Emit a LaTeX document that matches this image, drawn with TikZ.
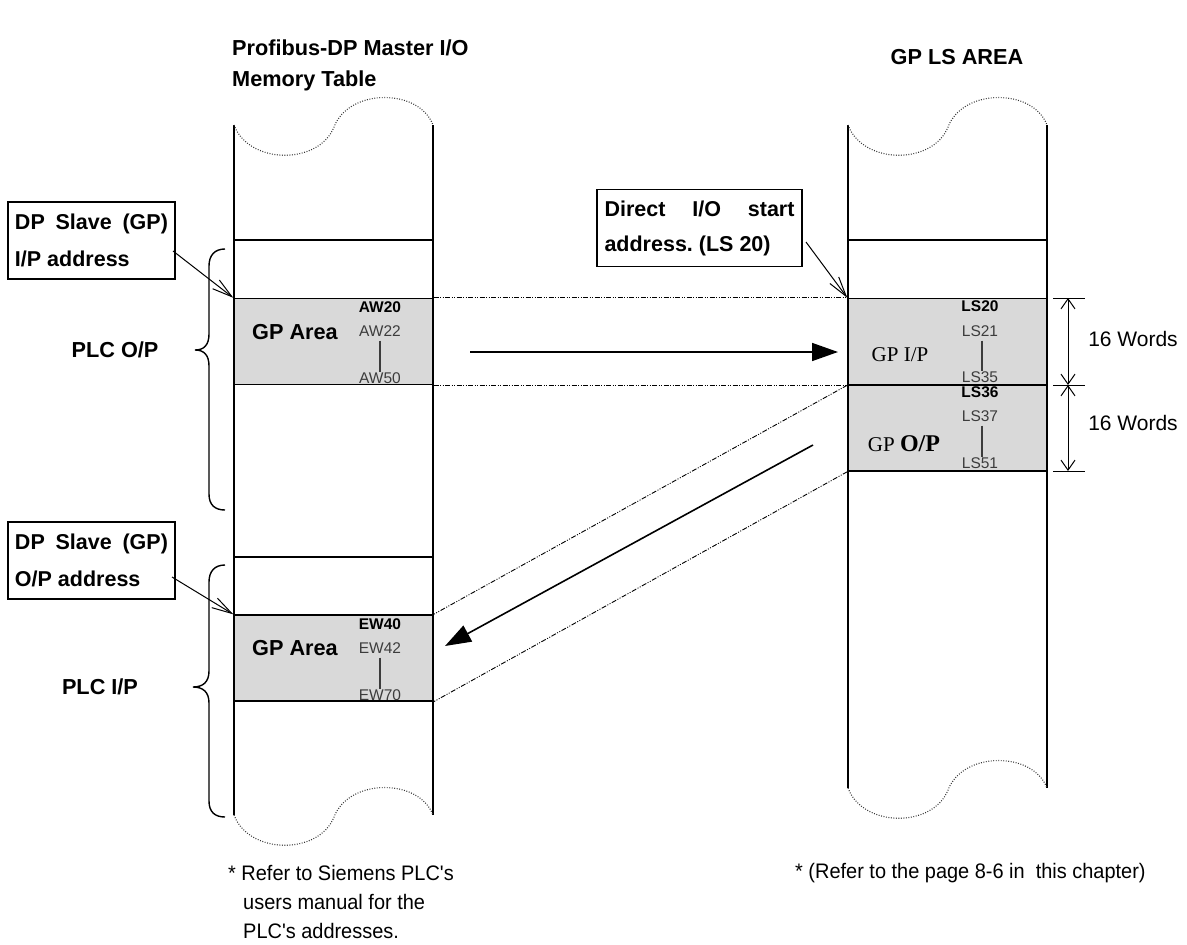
\documentclass[tikz,border=0pt]{standalone}
\usepackage{fontspec}
\setmainfont{Liberation Sans}
\newfontfamily\tnr{Liberation Serif}
\newfontfamily\narrowsf[FakeStretch=0.95]{Liberation Sans}
\usetikzlibrary{arrows.meta}
\definecolor{gpgray}{RGB}{217,217,217}
\definecolor{addr}{RGB}{60,60,60}
\begin{document}
\frenchspacing
\begin{tikzpicture}[x=1pt,y=-1pt,
  col/.style={line width=1.4pt},
  hline/.style={line width=1.4pt},
  wave/.style={line width=1.1pt, dash pattern=on 0.9pt off 1.6pt, black!80},
  gparea/.style={fill=gpgray, draw=black, line width=1.4pt, minimum width=199pt, minimum height=86pt, inner sep=0pt},
  lbox/.style={draw, line width=1.4pt, minimum width=167pt, minimum height=77pt, inner sep=0pt, align=left, font=\fontsize{21.5}{37}\selectfont\bfseries},
  big/.style={font=\fontsize{21.7}{33}\selectfont\bfseries},
  bold15/.style={font=\fontsize{15.5}{18}\selectfont\bfseries, inner sep=0pt},
  reg15/.style={font=\fontsize{15.5}{18}\selectfont, text=addr, inner sep=0pt},
  pointer/.style={line width=1pt, -{Straight Barb[length=20pt,width=11pt,line width=1pt]}},
  bigarrow/.style={line width=1.6pt, -{Triangle[length=26pt,width=18pt]}},
  dashdot/.style={line width=0.9pt, dash pattern=on 5pt off 1.5pt on 1pt off 1.5pt on 1pt off 1.5pt},
  dim/.style={line width=1pt, {Straight Barb[length=10pt,width=14pt,line width=1pt]}-{Straight Barb[length=10pt,width=14pt,line width=1pt]}},
  brace/.style={line width=1.4pt},
  note/.style={font=\fontsize{21}{29}\selectfont\narrowsf, inner sep=0pt, anchor=west}
]
\useasboundingbox (0,0) rectangle (1187,945);

% headings
\node[big, anchor=west, inner sep=0pt] (h1) at (232,48) {Profibus-DP Master I/O};
\node[big, anchor=west, inner sep=0pt] (h2) at (232,81) {Memory Table};
\node[big, inner sep=0pt] (h3) at (957,57) {GP LS AREA};

% gray areas
\node[gparea] (aw) at (333.5,341.5) {};
\node[gparea] (ew) at (333.5,658) {};
\node[gparea] (ls1) at (947.5,341.5) {};
\node[gparea, minimum height=86pt] (ls2) at (947.5,428) {};

% columns
\draw[col] (234,125) -- (234,815);
\draw[col] (433,125) -- (433,815);
\draw[col] (848,125) -- (848,788);
\draw[col] (1047,125) -- (1047,788);

% horizontal lines
\draw[hline] (234,240) -- (433,240);
\draw[hline] (234,557) -- (433,557);
\draw[hline] (848,240) -- (1047,240);

% wavy caps
\draw[wave, shift={(234,125)}] (0,0) .. controls (15,40) and (85,40) .. (100,2) .. controls (115,-37) and (185,-37) .. (199,0);
\draw[wave, shift={(848,125)}] (0,0) .. controls (15,40) and (85,40) .. (100,2) .. controls (115,-37) and (185,-37) .. (199,0);
\draw[wave, shift={(234,815)}] (0,0) .. controls (15,40) and (85,40) .. (100,2) .. controls (115,-37) and (185,-37) .. (199,0);
\draw[wave, shift={(848,788)}] (0,0) .. controls (15,40) and (85,40) .. (100,2) .. controls (115,-37) and (185,-37) .. (199,0);

% texts in AW area
\node[big, inner sep=0pt] (awt) at (295,332) {GP Area};
\node[bold15] (aw20) at (380,307) {AW20};
\node[reg15] (aw22) at (380,331) {AW22};
\node[reg15] (aw50) at (380,378) {AW50};
\draw[line width=2pt, addr] (aw22.south) ++(0,4) coordinate (b1) -- (b1 |- aw50.north) ;

% texts in EW area
\node[big, inner sep=0pt] (ewt) at (295,648) {GP Area};
\node[bold15] (ew40) at (380,624) {EW40};
\node[reg15] (ew42) at (380,648) {EW42};
\node[reg15] (ew70) at (380,695) {EW70};
\draw[line width=2pt, addr] (ew42.south) ++(0,4) coordinate (b2) -- (b2 |- ew70.north);

% texts in LS areas
\node[bold15] (ls20) at (980,306) {LS20};
\node[reg15] (ls21) at (980,331) {LS21};
\node[reg15] (ls35) at (980,377) {LS35};
\draw[line width=2pt, addr] (ls21.south) ++(2,4) coordinate (b3) -- (b3 |- ls35.north);
\node[inner sep=0pt, font=\fontsize{21}{24}\selectfont\tnr] (gpip) at (900,355) {GP I/P};

\node[bold15] (ls36) at (980,392) {LS36};
\node[reg15] (ls37) at (980,416) {LS37};
\node[reg15] (ls51) at (980,463) {LS51};
\draw[line width=2pt, addr] (ls37.south) ++(2,4) coordinate (b4) -- (b4 |- ls51.north);
\node[inner sep=0pt, font=\fontsize{21}{24}\selectfont\tnr] (gpop) at (904,444) {GP {\fontsize{24}{26}\selectfont\bfseries O/P}};

% dimension
\coordinate (d0) at (1068,298);
\coordinate (d1) at (1068,385);
\coordinate (d2) at (1068,471);
\draw[line width=1pt] (1053,298) -- (1085,298);
\draw[line width=1pt] (1053,385) -- (1085,385);
\draw[line width=1pt] (1053,471) -- (1085,471);
\draw[dim] (d0) -- (d1);
\draw[dim] (d1) -- (d2);
\node[inner sep=0pt, font=\fontsize{21}{24}\selectfont] (w1) at (1133,339) {16 Words};
\node[inner sep=0pt, font=\fontsize{21}{24}\selectfont] (w2) at (1133,423) {16 Words};

% dash-dot mapping lines
\draw[dashdot] (aw.north east) -- (ls1.north west);
\draw[dashdot] (aw.south east) -- (ls1.south west);
\draw[dashdot] (ls1.south west) -- (ew.north east);
\draw[dashdot] (ls2.south west) -- (ew.south east);

% big arrows
\coordinate (a1s) at (470,352);
\coordinate (a1e) at (838,352);
\coordinate (a2s) at (813,445);
\coordinate (a2e) at (445,646);
\draw[bigarrow] (a1s) -- (a1e);
\draw[bigarrow] (a2s) -- (a2e);

% label boxes
\node[lbox] (box1) at (91.5,240.5) {\makebox[153pt][s]{DP Slave (GP)}\\I/P address};
\node[lbox] (box2) at (91.5,560.5) {\makebox[153pt][s]{DP Slave (GP)}\\O/P address};
\node[lbox, minimum width=205pt, font=\fontsize{21.5}{35}\selectfont\bfseries] (box3) at (699.5,228) {\makebox[190pt][s]{Direct I/O start}\\address. (LS 20)};

\coordinate (p1) at (173,251);
\coordinate (p2) at (172,577);
\coordinate (p3) at (806,242);
\draw[pointer] (p1) -- (aw.north west);
\draw[pointer] (p2) -- (ew.north west);
\draw[pointer] (p3) -- (ls1.north west);

% braces
\draw[brace] (225,249) .. controls (215,249) and (209,255) .. (209,266) -- (209,334) .. controls (209,345) and (204,350) .. (195,350) .. controls (204,350) and (209,355) .. (209,366) -- (209,494) .. controls (209,505) and (215,510) .. (225,510);
\draw[brace] (225,565) .. controls (215,565) and (209,571) .. (209,582) -- (209,671) .. controls (209,682) and (203,687) .. (193,687) .. controls (203,687) and (209,692) .. (209,703) -- (209,801) .. controls (209,812) and (215,817) .. (225,817);

\node[big, inner sep=0pt] (plco) at (115,350) {PLC O/P};
\node[big, inner sep=0pt] (plci) at (100,687) {PLC I/P};

% notes
\node[note] (n1) at (228,873) {* Refer to Siemens PLC's};
\node[note] (n2) at (243,902) {users manual for the};
\node[note] (n3) at (243,931) {PLC's addresses.};
\node[note] (n4) at (795,873) {* (Refer to the page 8-6 in\ \ this chapter)};
\end{tikzpicture}
\end{document}
